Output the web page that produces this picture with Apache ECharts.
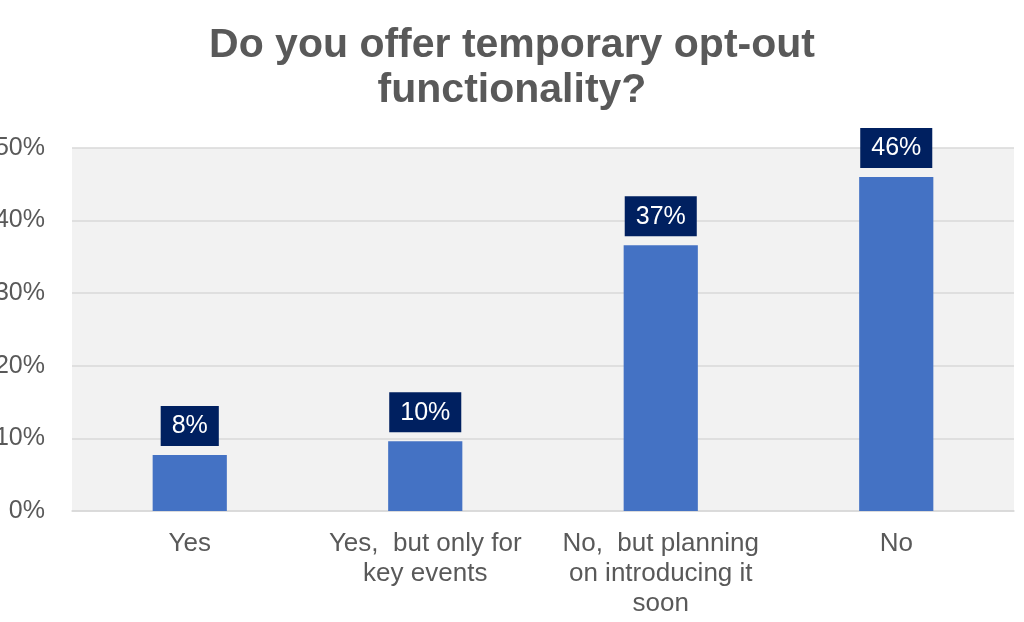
<!DOCTYPE html>
<html>
<head>
<meta charset="utf-8">
<script src="https://cdn.jsdelivr.net/npm/echarts@6/dist/echarts.min.js"></script>
<style>html,body{margin:0;padding:0;background:#fff}#c{width:1024px;height:622px}</style>
</head>
<body>
<div id="c"></div>
<script>
const titleText = "Do you offer temporary opt-out\nfunctionality?";
const categories = ["Yes", "Yes,  but only for\nkey events", "No,  but planning\non introducing it\nsoon", "No"];
const values = [7.7, 9.6, 36.6, 46.0];
const yTicks = [0, 10, 20, 30, 40, 50];

const chart = echarts.init(document.getElementById('c'));
chart.setOption({
  animation: false,
  backgroundColor: '#ffffff',
  title: {
    text: titleText,
    left: 'center',
    top: 18,
    textStyle: {
      fontFamily: 'Liberation Sans, Arial, sans-serif',
      fontSize: 41,
      fontWeight: 'bold',
      color: '#595959',
      lineHeight: 45
    }
  },
  grid: {
    left: 72, right: 10, top: 148, bottom: 111,
    outerBoundsMode: 'none',
    containLabel: false,
    show: true, backgroundColor: '#f2f2f2', borderWidth: 0
  },
  xAxis: {
    type: 'category',
    data: categories,
    axisTick: { show: false },
    axisLine: { show: true, lineStyle: { color: '#d9d9d9', width: 1.5 } },
    axisLabel: {
      interval: 0,
      margin: 18,
      fontFamily: 'Liberation Sans, Arial, sans-serif',
      fontSize: 26,
      lineHeight: 30,
      color: '#595959'
    }
  },
  yAxis: {
    type: 'value',
    min: yTicks[0],
    max: yTicks[yTicks.length - 1],
    interval: 10,
    axisLine: { show: false },
    axisTick: { show: false },
    splitLine: { lineStyle: { color: '#d9d9d9', width: 1.5 } },
    axisLabel: {
      margin: 27,
      fontFamily: 'Liberation Sans, Arial, sans-serif',
      fontSize: 25,
      color: '#595959',
      formatter: v => v + '%'
    }
  },
  series: [{
    type: 'bar',
    data: values,
    barWidth: '31.5%',
    itemStyle: { color: '#4472c4' },
    label: {
      show: true,
      position: 'top',
      distance: 9,
      formatter: p => Math.round(p.value) + '%',
      fontFamily: 'Liberation Sans, Arial, sans-serif',
      fontSize: 25,
      lineHeight: 25,
      color: '#ffffff',
      backgroundColor: '#002060',
      padding: [8, 11, 7, 11]
    }
  }]
});
</script>
</body>
</html>
